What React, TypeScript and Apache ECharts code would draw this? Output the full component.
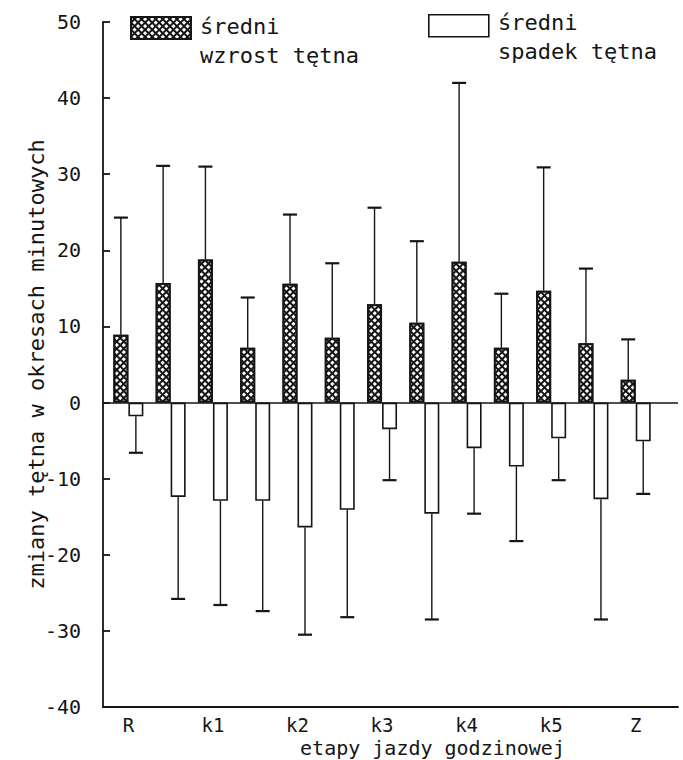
import React, { useEffect, useRef } from "react";
import * as echarts from "echarts";

// stages of the hourly ride (labels shown every other bar pair)
const stages = ["R", "", "k1", "", "k2", "", "k3", "", "k4", "", "k5", "", "Z"];
// mean rise of heart rate and its SD
const riseMean = [8.9, 15.7, 18.8, 7.2, 15.6, 8.5, 12.9, 10.5, 18.5, 7.2, 14.7, 7.8, 3.0];
const riseSD = [15.4, 15.4, 12.2, 6.6, 9.1, 9.8, 12.7, 10.7, 23.5, 7.1, 16.2, 9.8, 5.3];
// mean fall of heart rate and its SD
const fallMean = [-1.8, -12.4, -12.9, -12.9, -16.4, -14.1, -3.5, -14.6, -6.0, -8.4, -4.7, -12.7, -5.1];
const fallSD = [4.8, 13.4, 13.7, 14.5, 14.1, 14.1, 6.7, 13.9, 8.6, 9.8, 5.5, 15.8, 6.9];
const labelPositions = [0, 2, 4, 6, 8, 10, 12];

const riseName = "średni wzrost tętna";
const fallName = "średni spadek tętna";
const yName = "zmiany tętna w okresach minutowych";
const xName = "etapy jazdy godzinowej";

const FONT = "'DejaVu Sans Mono', monospace";
const INK = "#151515";
const BAR_W = 15;

export default function App() {
  const ref = useRef<HTMLDivElement>(null);
  useEffect(() => {
    const chart = echarts.init(ref.current!, null, { renderer: "svg" });
    const idx = stages.map((_, i) => i);
    const hatch = {
      symbol: "rect",
      symbolSize: 1,
      dashArrayX: [3, 1.6],
      dashArrayY: [3, 1.6],
      rotation: Math.PI / 4,
      color: "#ffffff",
    };
    const riseStyle = { color: INK, borderColor: INK, borderWidth: 2, decal: hatch };
    const fallStyle = { color: "#ffffff", borderColor: INK, borderWidth: 1.6 };

    const errSeries = (name: string, mean: number[], sd: number[], dir: number, offset: number) => ({
      type: "custom",
      name: name + " SD",
      data: idx.map((i) => [i, mean[i], mean[i] + dir * sd[i]]),
      encode: { x: 0, y: [1, 2] },
      silent: true,
      renderItem: (_params: any, api: any) => {
        const p0 = api.coord([api.value(0), api.value(1)]);
        const p1 = api.coord([api.value(0), api.value(2)]);
        const x = p0[0] + offset;
        return {
          type: "group",
          children: [
            { type: "line", shape: { x1: x, y1: p0[1], x2: x, y2: p1[1] }, style: { stroke: INK, lineWidth: 1.4 } },
            { type: "line", shape: { x1: x - 7, y1: p1[1], x2: x + 7, y2: p1[1] }, style: { stroke: INK, lineWidth: 2.2 } },
          ],
        };
      },
    });

    const legendBox = (name: string, style: any, left: number, top: number) => ({
      data: [{ name, itemStyle: style }],
      left,
      top,
      padding: 0,
      icon: "rect",
      itemWidth: 60,
      itemHeight: 22,
      selectedMode: false,
      formatter: () => "",
    });
    const legendLabel = (name: string, left: number, top: number) => ({
      type: "text",
      left,
      top,
      silent: true,
      style: {
        text: name.replace(" ", "\n"),
        fontFamily: FONT,
        fontSize: 22,
        lineHeight: 29,
        fill: INK,
      },
    });

    chart.setOption({
      animation: false,
      backgroundColor: "#ffffff",
      textStyle: { fontFamily: FONT },
      grid: { left: 103, right: 5, top: 22, bottom: 53, outerBoundsMode: "none", containLabel: false },
      legend: [legendBox(riseName, riseStyle, 130, 16), legendBox(fallName, fallStyle, 428, 14)],
      graphic: [legendLabel(riseName, 200, 12), legendLabel(fallName, 498, 8)],
      xAxis: {
        type: "value",
        min: -0.6,
        max: 13,
        splitLine: { show: false },
        axisLine: { show: true, onZero: false, lineStyle: { color: INK, width: 1.8 } },
        axisTick: { show: false },
        axisLabel: {
          customValues: labelPositions,
          formatter: (v: number) => stages[Math.round(v)] ?? "",
          fontFamily: FONT,
          fontSize: 19,
          lineHeight: 20,
          color: INK,
          margin: 8,
        },
        name: xName,
        nameLocation: "middle",
        nameGap: 30,
        nameMoveOverlap: false,
        nameTextStyle: { fontFamily: FONT, fontSize: 20, lineHeight: 21, color: INK, padding: [0, 0, 0, 84] },
      },
      yAxis: {
        type: "value",
        min: -40,
        max: 50,
        interval: 10,
        splitLine: { show: false },
        axisLine: { show: true, onZero: false, lineStyle: { color: INK, width: 1.8 } },
        axisTick: { show: true, inside: true, length: 7, lineStyle: { color: INK, width: 1.8 } },
        axisLabel: { fontFamily: FONT, fontSize: 20, color: INK, margin: 22 },
        name: yName,
        nameLocation: "middle",
        nameGap: 56,
        nameMoveOverlap: false,
        nameRotate: 90,
        nameTextStyle: { fontFamily: FONT, fontSize: 22, color: INK },
      },
      series: [
        {
          type: "bar",
          name: riseName,
          data: idx.map((i) => [i, riseMean[i]]),
          barWidth: BAR_W,
          barGap: "0%",
          itemStyle: riseStyle,
          silent: true,
          markLine: {
            silent: true,
            symbol: "none",
            label: { show: false },
            lineStyle: { color: INK, width: 1.6, type: "solid" },
            data: [{ yAxis: 0 }],
          },
        },
        {
          type: "bar",
          name: fallName,
          data: idx.map((i) => [i, fallMean[i]]),
          barWidth: BAR_W,
          barGap: "0%",
          itemStyle: fallStyle,
          silent: true,
        },
        errSeries(riseName, riseMean, riseSD, 1, -BAR_W / 2),
        errSeries(fallName, fallMean, fallSD, -1, BAR_W / 2),
      ],
    });
    return () => chart.dispose();
  }, []);
  return <div ref={ref} style={{ width: 683, height: 760, position: "absolute", left: 0, top: 0 }} />;
}
